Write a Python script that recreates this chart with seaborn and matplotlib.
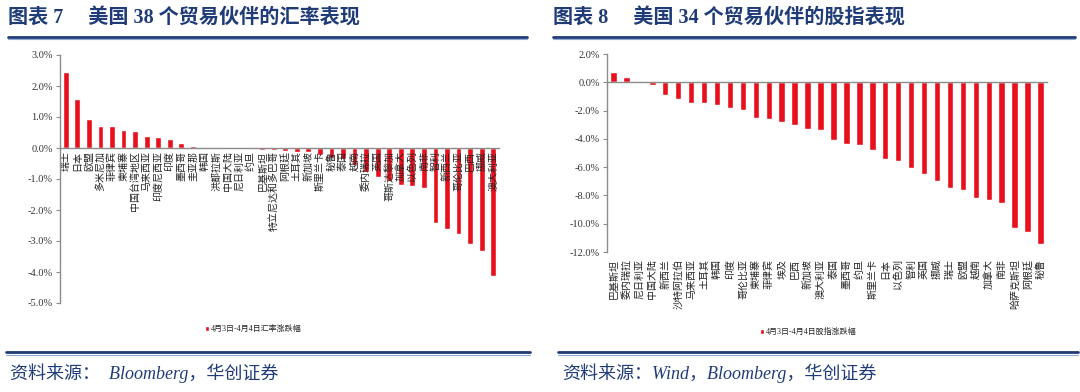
import matplotlib
matplotlib.use("Agg")
import matplotlib.pyplot as plt
import seaborn as sns
import pandas as pd
from matplotlib.lines import Line2D
from matplotlib.ticker import FuncFormatter, MultipleLocator, FixedLocator

# ---------------- data ----------------
fx_countries = ["瑞士", "日本", "欧盟", "多米尼加", "菲律宾", "柬埔寨", "中国台湾地区", "马来西亚",
                "印度尼西亚", "印度", "墨西哥", "圭亚那", "韩国", "洪都拉斯", "中国大陆", "尼日利亚",
                "约旦", "巴基斯坦", "特立尼达和多巴哥", "阿根廷", "土耳其", "新加坡", "斯里兰卡", "秘鲁",
                "泰国", "越南", "委内瑞拉", "英国", "哥斯达黎加", "加拿大", "以色列", "南非",
                "智利", "新西兰", "哥伦比亚", "巴西", "挪威", "澳大利亚"]
fx_values = [2.44, 1.58, 0.94, 0.71, 0.71, 0.58, 0.54, 0.40,
             0.35, 0.30, 0.15, 0.07, 0.04, 0.04, 0.01, 0.00,
             -0.02, -0.05, -0.08, -0.10, -0.13, -0.13, -0.22, -0.32,
             -0.36, -0.55, -0.76, -0.92, -1.05, -1.18, -1.23, -1.28,
             -2.42, -2.62, -2.78, -3.10, -3.31, -4.12]

eq_countries = ["巴基斯坦", "委内瑞拉", "尼日利亚", "中国大陆", "新西兰", "沙特阿拉伯", "马来西亚", "土耳其",
                "韩国", "印度", "哥伦比亚", "柬埔寨", "菲律宾", "埃及", "巴西", "新加坡", "澳大利亚",
                "泰国", "墨西哥", "约旦", "斯里兰卡", "日本", "以色列", "智利", "英国", "挪威",
                "瑞士", "欧盟", "越南", "加拿大", "南非", "哈萨克斯坦", "阿根廷", "秘鲁"]
eq_values = [0.75, 0.35, 0.07, -0.21, -0.89, -1.18, -1.46, -1.46,
             -1.60, -1.79, -1.95, -2.56, -2.61, -2.80, -3.01, -3.27, -3.36,
             -4.07, -4.38, -4.42, -4.80, -5.43, -5.55, -6.09, -6.47, -6.96,
             -7.50, -7.62, -8.16, -8.35, -8.52, -10.30, -10.60, -11.42]

titles = ["图表 7     美国 38 个贸易伙伴的汇率表现", "图表 8     美国 34 个贸易伙伴的股指表现"]
legend_labels = ["4月3日-4月4日汇率涨跌幅", "4月3日-4月4日股指涨跌幅"]
sources = ["资料来源：  Bloomberg，华创证券", "资料来源：Wind，Bloomberg，华创证券"]
fx_ylim = (-5, 3)
eq_ylim = (-12, 2)

# ---------------- style ----------------
sns.set_style("white")
FAM = ["Liberation Serif", "Noto Sans CJK SC", "DejaVu Sans"]
CJK = ["Noto Sans CJK SC", "DejaVu Sans"]
plt.rcParams["font.family"] = FAM
plt.rcParams["axes.unicode_minus"] = False

RED = "#E8101C"
NAVY = "#1F3C78"
LIGHT = "#8EA9D4"
GRAY = "#8C8C8C"
LABEL_SIZE = 7.2

W, H = 1080, 392
fig = plt.figure(figsize=(W / 100, H / 100), dpi=100)
fig.patch.set_facecolor("white")


def fx(px):
    return px / W


def fy(py):
    return 1 - py / H


def panel(rect, cats, vals, ylim, step, legend_label, legend_xy, labels_low=False):
    ax = fig.add_axes(rect)
    df = pd.DataFrame({"cat": cats, "val": vals})
    sns.barplot(data=df, x="cat", y="val", color=RED, width=0.5, ax=ax,
                label=legend_label, saturation=1, zorder=1)
    ax.set_axisbelow(False)
    ax.set_xlim(-0.5, len(cats) - 0.5)
    ax.set_ylim(*ylim)
    ax.set_xlabel("")
    ax.set_ylabel("")
    for s in ["top", "right"]:
        ax.spines[s].set_visible(False)
    ax.spines["bottom"].set_position(("data", 0))
    for s in ["left", "bottom"]:
        ax.spines[s].set_color(GRAY)
        ax.spines[s].set_linewidth(1.0)
        ax.spines[s].set_zorder(3)
    ax.yaxis.set_major_locator(MultipleLocator(step))
    ax.yaxis.set_major_formatter(FuncFormatter(lambda v, p: f"{v:.1f}%"))
    ax.tick_params(axis="y", labelsize=7.5, colors="#333333", length=3, width=0.8,
                   direction="out", left=True, pad=2)
    ax.tick_params(axis="y", color=GRAY)
    ax.set_xticks(range(len(cats)))
    if labels_low:
        ax.set_xticklabels([])
        trans = ax.get_xaxis_transform()
        for i, c in enumerate(cats):
            ax.text(i, -0.035, c, transform=trans, rotation=90, fontsize=LABEL_SIZE, family=CJK,
                    color="#222222", ha="center", va="top", clip_on=False)
    else:
        ax.set_xticklabels(cats, rotation=90, fontsize=LABEL_SIZE, family=CJK, color="#222222",
                           ha="center", va="top")
    ax.tick_params(axis="x", length=0, pad=2)
    ax.xaxis.set_minor_locator(FixedLocator([i - 0.5 for i in range(len(cats) + 1)]))
    ax.tick_params(axis="x", which="minor", length=3, width=0.8, color=GRAY, direction="out")
    leg = ax.legend(loc="center left", bbox_to_anchor=legend_xy, bbox_transform=fig.transFigure,
                    frameon=False, handlelength=0.45, handleheight=0.6, handletextpad=0.3,
                    borderaxespad=0, borderpad=0, prop={"family": FAM, "size": 5.8})
    for t in leg.get_texts():
        t.set_color("#222222")
    return ax


panel([fx(60), fy(303), fx(499 - 60), (303 - 55) / H], fx_countries, fx_values,
      fx_ylim, 1, legend_labels[0], (fx(205), fy(329)))
panel([fx(607), fy(252), fx(1047 - 607), (252 - 54) / H], eq_countries, eq_values,
      eq_ylim, 2, legend_labels[1], (fx(760), fy(332)), labels_low=True)

# titles and rules
for x0, x1, title in [(8, 527, titles[0]), (553, 1075, titles[1])]:
    fig.text(fx(x0), fy(19), title, fontsize=14.5, fontweight="bold", color=NAVY,
             family=FAM, ha="left", va="center")
    fig.add_artist(Line2D([fx(x0), fx(x1)], [fy(36.5), fy(36.5)], transform=fig.transFigure,
                          color=NAVY, lw=2.0))
    fig.add_artist(Line2D([fx(x0), fx(x1)], [fy(39), fy(39)], transform=fig.transFigure,
                          color=LIGHT, lw=0.8))

for x0, x1, src in [(6, 530, sources[0]), (558, 1078, sources[1])]:
    fig.add_artist(Line2D([fx(x0), fx(x1)], [fy(352), fy(352)], transform=fig.transFigure,
                          color=NAVY, lw=2.0))
    fig.add_artist(Line2D([fx(x0), fx(x1)], [fy(354.5), fy(354.5)], transform=fig.transFigure,
                          color=LIGHT, lw=0.8))
    fig.text(fx(x0 + 4), fy(373), src, fontsize=13, style="italic", color=NAVY,
             family=FAM, ha="left", va="center")

fig.savefig("out.png", dpi=100, facecolor="white")
